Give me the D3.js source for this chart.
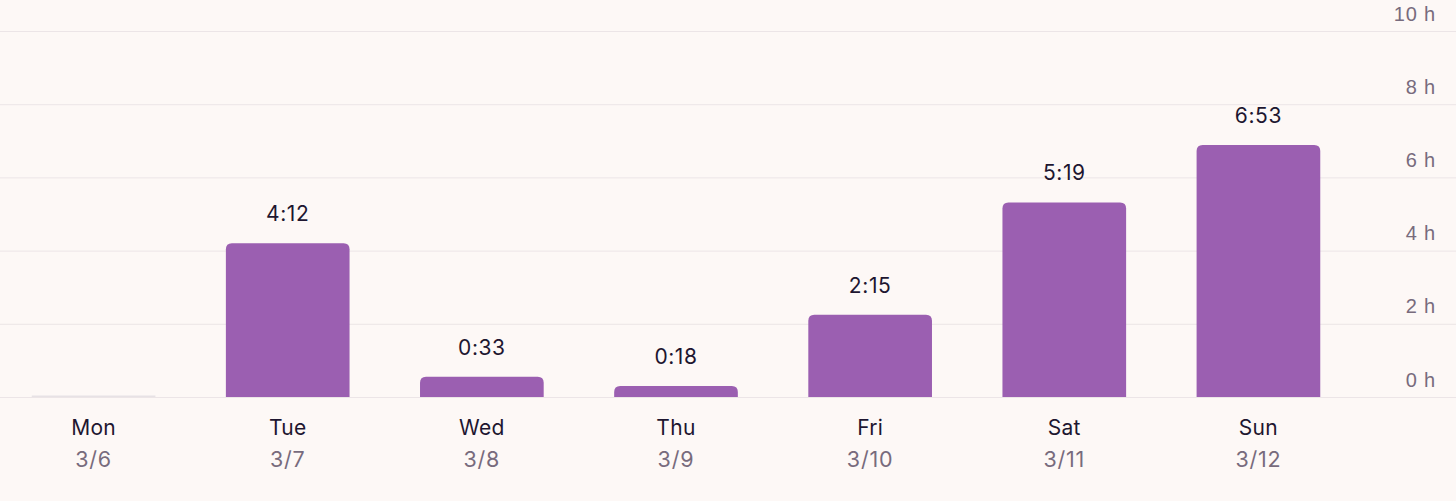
<!DOCTYPE html>
<html><head><meta charset="utf-8">
<script src="https://cdn.jsdelivr.net/npm/d3@7"></script>
<style>
html,body{margin:0;padding:0;background:#fdf8f6;}
svg{display:block;font-family:Inter,"Noto Sans",sans-serif;}
</style></head><body>
<svg id="c" width="1456" height="501"></svg>
<script>
const days = ["Mon","Tue","Wed","Thu","Fri","Sat","Sun"];
const dates = ["3/6","3/7","3/8","3/9","3/10","3/11","3/12"];
const minutes = [0, 252, 33, 18, 135, 319, 413];
const valueLabels = ["", "4:12", "0:33", "0:18", "2:15", "5:19", "6:53"];
const yTicks = [0, 2, 4, 6, 8, 10];

const W = 1456, H = 501;
const svg = d3.select("#c");
svg.append("rect").attr("width", W).attr("height", H).attr("fill", "#fdf8f6");

const x = d3.scaleBand().domain(days).range([-3.5, 1355.5]).paddingInner(0.363).paddingOuter(0.1815);
const y = d3.scaleLinear().domain([0, 10]).range([397, 31]);

// gridlines + right tick labels
const yAxis = d3.axisRight(y).tickValues(yTicks).tickSize(W).tickFormat(d => d + " h");
const ga = svg.append("g").call(yAxis);
ga.select(".domain").remove();
ga.selectAll(".tick line").attr("stroke", "#ece5e7").attr("stroke-width", 1);
ga.selectAll(".tick text")
  .attr("x", 1436).attr("dy", -11).attr("text-anchor", "end")
  .attr("fill", "#786b7d").attr("font-size", 20).attr("letter-spacing", 0.8);

// rounded-top bar path
function barPath(x0, y0, w, h, r) {
  r = Math.min(r, h, w / 2);
  return `M${x0},${y0 + h}V${y0 + r}Q${x0},${y0} ${x0 + r},${y0}H${x0 + w - r}Q${x0 + w},${y0} ${x0 + w},${y0 + r}V${y0 + h}Z`;
}

const hours = minutes.map(m => m / 60);
const g = svg.append("g");
days.forEach((d, i) => {
  const v = hours[i];
  const bx = x(d), bw = x.bandwidth();
  if (v > 0) {
    const top = y(v);
    g.append("path").attr("d", barPath(bx, top, bw, y(0) - top, 6)).attr("fill", "#9b5fb1");
    g.append("text").attr("x", bx + bw / 2).attr("y", top - 22)
      .attr("text-anchor", "middle").attr("font-size", 21).attr("letter-spacing", 0.6)
      .attr("fill", "#1e1630").text(valueLabels[i]);
  } else {
    g.append("rect").attr("x", bx).attr("y", y(0) - 1.5).attr("width", bw).attr("height", 1.5)
      .attr("fill", "#e7e2e5");
  }
});

// x labels
const xl = svg.append("g");
days.forEach((d, i) => {
  const cx = x(d) + x.bandwidth() / 2;
  xl.append("text").attr("x", cx).attr("y", 435).attr("text-anchor", "middle")
    .attr("font-size", 21).attr("letter-spacing", 0.3).attr("fill", "#1e1630").text(d);
  xl.append("text").attr("x", cx).attr("y", 467).attr("text-anchor", "middle")
    .attr("font-size", 21.5).attr("letter-spacing", 0.8).attr("fill", "#786b7d").text(dates[i]);
});
</script>
</body></html>
